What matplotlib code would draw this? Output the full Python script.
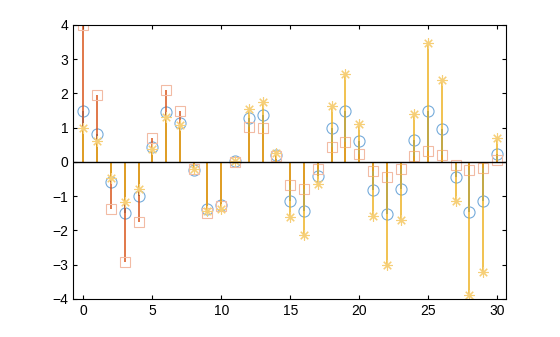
import matplotlib
matplotlib.use("Agg")
import matplotlib.pyplot as plt
import numpy as np

plt.rcParams['font.family'] = ['Liberation Sans', 'DejaVu Sans']

x = list(range(31))
circ_vals = [1.5, 0.82, -0.6, -1.5, -0.99, 0.45, 1.45, 1.14, -0.24, -1.37,
             -1.25, 0.02, 1.28, 1.37, 0.2, -1.13, -1.43, -0.41, 0.99, 1.49,
             0.61, -0.82, -1.52, -0.79, 0.65, 1.5, 0.97, -0.44, -1.45, -1.14, 0.23]
sq_vals = [4.0, 1.95, -1.37, -2.93, -1.74, 0.7, 2.1, 1.5, -0.22, -1.49,
           -1.3, 0.0, 1.02, 0.99, 0.17, -0.67, -0.79, -0.2, 0.44, 0.58,
           0.23, -0.26, -0.43, -0.2, 0.16, 0.32, 0.2, -0.09, -0.23, -0.17, 0.05]
ast_vals = [1.0, 0.6, -0.47, -1.17, -0.8, 0.38, 1.31, 1.07, -0.22, -1.42,
            -1.38, 0.02, 1.55, 1.76, 0.25, -1.6, -2.13, -0.63, 1.63, 2.57,
            1.12, -1.57, -3.0, -1.69, 1.41, 3.48, 2.4, -1.14, -3.9, -3.22, 0.71]

fig = plt.figure(figsize=(5.6, 3.37), dpi=100)
ax = fig.add_axes([0.131, 0.113, 0.773, 0.813])

# stem colour, lighter marker colour, marker, size
series = [
    (circ_vals, '#0072BD', '#75ABDB', 'o', 8),
    (sq_vals, '#D95319', '#F2BBA4', 's', 6.5),
    (ast_vals, '#EDB120', '#F6CF78', (8, 2, 0), 7.5),
]
for vals, line_col, mk_col, mk, ms in series:
    ax.vlines(x, 0, vals, colors=line_col, linewidth=1.1)
    ax.plot(x, vals, linestyle='none', marker=mk, markersize=ms,
            markerfacecolor='none', markeredgecolor=mk_col, markeredgewidth=0.8)

ax.axhline(0, color='black', linewidth=1.0)
ax.set_xlim(-0.73, 30.67)
ax.set_ylim(-4, 4)
ax.set_xticks([0, 5, 10, 15, 20, 25, 30])
ax.set_yticks([-4, -3, -2, -1, 0, 1, 2, 3, 4])
ax.tick_params(direction='in', top=True, right=True, labelsize=10, length=3, width=0.8)
for s in ax.spines.values():
    s.set_linewidth(0.8)

plt.savefig("out.png", dpi=100)
